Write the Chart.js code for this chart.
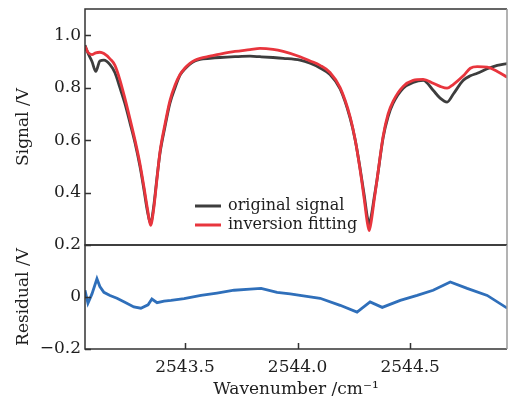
<!DOCTYPE html>
<html>
<head>
<meta charset="utf-8">
<script src="https://cdn.jsdelivr.net/npm/chart.js@4.4.1/dist/chart.umd.min.js"></script>
<style>
  html, body { margin: 0; padding: 0; background: #fff; }
  #wrap { position: relative; width: 508px; height: 400px; }
  #wrap canvas { position: absolute; left: 0; }
</style>
</head>
<body>
<div id="wrap">
  <canvas id="sig" width="508" height="250" style="top:0"></canvas>
  <canvas id="res" width="508" height="168" style="top:232px"></canvas>
</div>
<script>
// wavenumber grid (cm^-1) shared by signal and fit
const wave = [2543.056, 2543.069, 2543.087, 2543.104, 2543.122, 2543.140, 2543.167, 2543.189, 2543.211, 2543.233,
  2543.256, 2543.278, 2543.300, 2543.318, 2543.333, 2543.347, 2543.360, 2543.376, 2543.389, 2543.411,
  2543.433, 2543.456, 2543.478, 2543.500, 2543.522, 2543.544, 2543.567, 2543.611, 2543.656, 2543.722,
  2543.789, 2543.833, 2543.891, 2543.936, 2544.011, 2544.056, 2544.100, 2544.144, 2544.189, 2544.233,
  2544.256, 2544.278, 2544.296, 2544.309, 2544.318, 2544.327, 2544.340, 2544.353, 2544.380, 2544.402,
  2544.424, 2544.469, 2544.513, 2544.558, 2544.602, 2544.633, 2544.664, 2544.691, 2544.736, 2544.767,
  2544.798, 2544.842, 2544.887, 2544.931];
const signal = [0.962, 0.932, 0.900, 0.862, 0.902, 0.905, 0.888, 0.857, 0.800, 0.740,
  0.665, 0.590, 0.500, 0.410, 0.330, 0.282, 0.340, 0.460, 0.550, 0.650,
  0.740, 0.800, 0.848, 0.872, 0.890, 0.902, 0.908, 0.912, 0.915, 0.918,
  0.920, 0.918, 0.915, 0.912, 0.905, 0.893, 0.875, 0.850, 0.795, 0.685,
  0.600, 0.490, 0.390, 0.310, 0.278, 0.310, 0.380, 0.450, 0.610, 0.690,
  0.740, 0.798, 0.820, 0.828, 0.790, 0.760, 0.745, 0.775, 0.828, 0.845,
  0.855, 0.872, 0.885, 0.892];
const fitting = [0.958, 0.935, 0.926, 0.933, 0.935, 0.930, 0.910, 0.885, 0.830, 0.760,
  0.680, 0.600, 0.510, 0.420, 0.340, 0.275, 0.330, 0.455, 0.555, 0.660,
  0.750, 0.810, 0.850, 0.875, 0.893, 0.905, 0.912, 0.920, 0.928, 0.938,
  0.945, 0.950, 0.946, 0.938, 0.918, 0.902, 0.885, 0.858, 0.800, 0.690,
  0.600, 0.485, 0.375, 0.290, 0.255, 0.290, 0.370, 0.450, 0.615, 0.700,
  0.748, 0.805, 0.828, 0.832, 0.817, 0.805, 0.798, 0.812, 0.845, 0.874,
  0.880, 0.878, 0.862, 0.840];

// residual
const resWave = [2543.056, 2543.069, 2543.087, 2543.109, 2543.122, 2543.140, 2543.167, 2543.198, 2543.233, 2543.273,
  2543.304, 2543.336, 2543.353, 2543.376, 2543.407, 2543.438, 2543.496, 2543.571, 2543.642, 2543.718,
  2543.789, 2543.838, 2543.909, 2543.967, 2544.011, 2544.100, 2544.189, 2544.264, 2544.322, 2544.376,
  2544.456, 2544.531, 2544.602, 2544.678, 2544.753, 2544.842, 2544.931];
const residual = [0.026, -0.024, 0.012, 0.070, 0.040, 0.018, 0.006, -0.005, -0.020, -0.038,
  -0.043, -0.030, -0.008, -0.022, -0.016, -0.013, -0.006, 0.006, 0.015, 0.026,
  0.030, 0.033, 0.018, 0.012, 0.006, -0.005, -0.032, -0.058, -0.019, -0.040,
  -0.013, 0.006, 0.026, 0.058, 0.033, 0.006, -0.043];

const sigTicks = [0.4, 0.6, 0.8, 1.0];
const resTicks = [-0.2, 0, 0.2];
const waveTicks = [2543.5, 2544.0, 2544.5];

const F = "'DejaVu Serif', serif";
const TXT = '#1e1e1e';
const COL = { signal: '#3d3d3d', fit: '#e8353d', res: '#2f6fba' };
const X_MIN = 2543.056, X_MAX = 2544.93;

const pts = (xs, ys) => xs.map((x, i) => ({ x, y: ys[i] }));

// box + inward ticks
const framePlugin = {
  id: 'frame',
  afterDraw(chart, args, opts) {
    const { ctx, chartArea: a } = chart;
    ctx.save();
    ctx.strokeStyle = '#333';
    ctx.lineWidth = 1.5;
    ctx.beginPath();
    const ys = chart.scales.y;
    ys.ticks.forEach(t => {
      const p = Math.round(ys.getPixelForValue(t.value)) + 0.5;
      ctx.moveTo(a.left, p); ctx.lineTo(a.left + 6, p);
    });
    if (opts.xTicks) {
      const xs = chart.scales.x;
      xs.ticks.forEach(t => {
        const p = Math.round(xs.getPixelForValue(t.value)) + 0.5;
        ctx.moveTo(p, a.bottom); ctx.lineTo(p, a.bottom - 6);
      });
    }
    ctx.stroke();
    ctx.beginPath();
    ctx.moveTo(a.right, a.top); ctx.lineTo(a.left, a.top); ctx.lineTo(a.left, a.bottom); ctx.lineTo(a.right, a.bottom);
    ctx.stroke();
    ctx.strokeStyle = '#9a9a9a';
    ctx.beginPath();
    ctx.moveTo(a.right, a.top); ctx.lineTo(a.right, a.bottom);
    ctx.stroke();
    ctx.restore();
  }
};

const legendPlugin = {
  id: 'inlegend',
  afterDraw(chart) {
    const { ctx } = chart;
    ctx.save();
    ctx.font = '16px ' + F;
    ctx.textBaseline = 'middle';
    ctx.lineWidth = 3;
    const items = [chart.data.datasets[1], chart.data.datasets[0]];
    items.forEach((ds, i) => {
      const y = 206 + i * 19;
      ctx.strokeStyle = ds.borderColor;
      ctx.beginPath(); ctx.moveTo(195, y); ctx.lineTo(221, y); ctx.stroke();
      ctx.fillStyle = TXT;
      ctx.fillText(ds.label, 228, y);
    });
    ctx.restore();
  }
};

const tickFont = { family: F, size: 17 };

function yAxis(min, max, ticks, title, fmt, titlePad) {
  return {
    type: 'linear', min, max,
    afterFit: s => { s.width = 85; s.paddingTop = 0; s.paddingBottom = 0; },
    afterBuildTicks: s => { s.ticks = ticks.map(v => ({ value: v })); },
    grid: { display: false, drawTicks: false },
    border: { display: false },
    ticks: { padding: 4, color: TXT, font: tickFont, callback: fmt },
    title: { display: true, text: title, color: TXT, font: tickFont, padding: { top: titlePad, bottom: 0 } }
  };
}

new Chart(document.getElementById('sig').getContext('2d'), {
  type: 'line',
  data: {
    datasets: [
      { label: 'inversion fitting', data: pts(wave, fitting), borderColor: COL.fit, borderWidth: 2.8,
        pointRadius: 0, cubicInterpolationMode: 'monotone', order: 0 },
      { label: 'original signal', data: pts(wave, signal), borderColor: COL.signal, borderWidth: 2.8,
        pointRadius: 0, cubicInterpolationMode: 'monotone', order: 1 }
    ]
  },
  options: {
    responsive: false, animation: false,
    layout: { padding: { top: 9, right: 1, bottom: 5, left: 0 } },
    plugins: { legend: { display: false }, tooltip: { enabled: false }, frame: { xTicks: false } },
    scales: {
      x: { type: 'linear', min: X_MIN, max: X_MAX, display: false },
      y: yAxis(0.2, 1.1, sigTicks, 'Signal /V', v => v.toFixed(1), 13)
    }
  },
  plugins: [framePlugin, legendPlugin]
});

new Chart(document.getElementById('res').getContext('2d'), {
  type: 'line',
  data: {
    datasets: [
      { label: 'residual', data: pts(resWave, residual), borderColor: COL.res, borderWidth: 2.8,
        pointRadius: 0, tension: 0 }
    ]
  },
  options: {
    responsive: false, animation: false,
    layout: { padding: { top: 13, right: 1, bottom: 0, left: 0 } },
    plugins: { legend: { display: false }, tooltip: { enabled: false }, frame: { xTicks: true } },
    scales: {
      x: {
        type: 'linear', min: X_MIN, max: X_MAX,
        afterFit: s => { s.height = 51; s.paddingLeft = 0; s.paddingRight = 0; },
        afterBuildTicks: s => { s.ticks = waveTicks.map(v => ({ value: v })); },
        grid: { display: false, drawTicks: false },
        border: { display: false },
        ticks: { padding: 8, color: TXT, font: tickFont, maxRotation: 0, callback: v => v.toFixed(1) },
        title: { display: true, text: 'Wavenumber /cm\u207B\u00B9', color: TXT, font: tickFont, padding: { top: 0, bottom: 0 } }
      },
      y: yAxis(-0.2, 0.2, resTicks, 'Residual /V',
        v => Math.abs(v) < 1e-9 ? '0' : (v < 0 ? '\u2212' : '') + Math.abs(v).toFixed(1), 13)
    }
  },
  plugins: [framePlugin]
});
</script>
</body>
</html>
